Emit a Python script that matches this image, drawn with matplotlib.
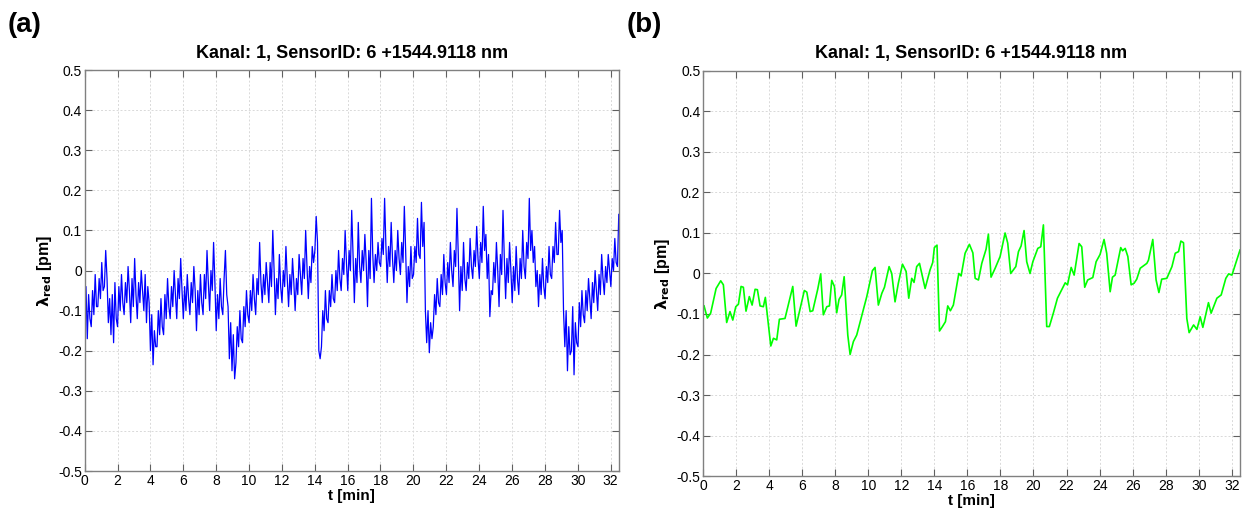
import matplotlib
matplotlib.use("Agg")
import matplotlib.pyplot as plt
import numpy as np

plt.rcParams["font.family"] = ["Liberation Sans", "DejaVu Sans"]
plt.rcParams["axes.unicode_minus"] = False

TITLE = "Kanal: 1, SensorID: 6 +1544.9118 nm"

# panel (a): raw signal, 5 samples per 0.4 min [pm]
blue_vals = [
    -0.08, -0.04, -0.17, -0.06, -0.12,   -0.14, -0.05, -0.11, -0.01, -0.09,
    -0.09, -0.02, -0.07, 0.02, -0.05,    -0.04, 0.05, -0.02, -0.13, -0.07,
    -0.16, -0.06, -0.18, -0.03, -0.12,   -0.14, -0.04, -0.10, -0.01, -0.08,
    -0.11, -0.03, -0.08, 0.01, -0.05,    -0.13, -0.02, -0.09, 0.03, -0.06,
    -0.12, -0.03, -0.08, 0.00, -0.05,    -0.10, -0.01, -0.13, -0.04, -0.08,
    -0.20, -0.11, -0.235, -0.15, -0.19,  -0.19, -0.10, -0.16, -0.07, -0.14,
    -0.16, -0.06, -0.12, -0.02, -0.09,   -0.12, -0.04, -0.09, 0.00, -0.06,
    -0.12, -0.02, -0.07, 0.03, -0.05,    -0.12, -0.04, -0.10, -0.01, -0.07,
    -0.11, -0.03, -0.08, 0.01, -0.05,    -0.15, -0.05, -0.11, -0.01, -0.08,
    -0.11, -0.01, -0.07, 0.05, -0.03,    -0.10, 0.00, -0.05, 0.07, -0.03,
    -0.15, -0.06, -0.12, -0.02, -0.09,   -0.11, -0.02, 0.05, -0.06, -0.09,
    -0.22, -0.13, -0.25, -0.16, -0.27,   -0.23, -0.14, -0.19, -0.10, -0.17,
    -0.18, -0.09, -0.14, -0.05, -0.11,   -0.13, -0.05, -0.10, -0.01, -0.07,
    -0.11, -0.02, -0.06, 0.07, -0.03,    -0.08, -0.01, -0.06, 0.02, -0.03,
    -0.08, 0.02, -0.04, 0.10, 0.00,      -0.11, -0.02, -0.07, 0.04, -0.04,
    -0.08, 0.00, -0.04, 0.06, -0.02,     -0.09, -0.01, -0.06, 0.03, -0.03,
    -0.10, -0.02, -0.06, 0.04, -0.01,    -0.06, 0.03, -0.02, 0.10, 0.01,
    -0.07, 0.01, -0.03, 0.06, 0.02,      0.05, 0.135, 0.07, -0.20, -0.22,
    -0.19, -0.10, -0.15, -0.05, -0.12,   -0.13, -0.05, -0.09, -0.01, -0.07,
    -0.08, 0.00, -0.05, 0.05, -0.02,     -0.05, 0.03, -0.01, 0.10, 0.02,
    -0.05, 0.05, 0.00, 0.15, 0.04,       -0.08, 0.03, -0.03, 0.12, 0.01,
    -0.03, 0.05, 0.00, 0.09, 0.02,       -0.09, 0.05, -0.02, 0.18, 0.04,
    -0.03, 0.04, 0.00, 0.07, 0.02,       0.01, 0.08, 0.04, 0.18, 0.06,
    -0.03, 0.06, 0.01, 0.12, 0.03,       -0.03, 0.05, 0.00, 0.10, 0.03,
    -0.01, 0.07, 0.02, 0.16, 0.05,       -0.08, 0.01, -0.04, 0.06, -0.02,
    -0.01, 0.06, 0.02, 0.13, 0.04,       0.03, 0.17, 0.06, 0.12, -0.10,
    -0.18, -0.10, -0.205, -0.13, -0.17,  -0.14, -0.06, -0.11, -0.02, -0.08,
    -0.09, -0.01, -0.06, 0.04, -0.03,    -0.06, 0.02, -0.03, 0.07, 0.00,
    -0.04, 0.05, 0.01, 0.155, 0.04,      -0.10, 0.01, -0.05, 0.07, -0.02,
    -0.05, 0.02, -0.02, 0.08, 0.01,      -0.02, 0.05, 0.01, 0.11, 0.03,
    -0.02, 0.07, 0.02, 0.16, 0.05,       0.09, -0.02, 0.04, -0.115, -0.05,
    -0.06, 0.02, -0.03, 0.07, 0.00,      -0.09, 0.04, -0.01, 0.15, 0.03,
    -0.07, 0.03, -0.03, 0.07, 0.00,      -0.08, 0.01, -0.05, 0.06, -0.02,
    -0.06, 0.03, -0.02, 0.10, 0.01,      -0.02, 0.07, 0.03, 0.18, 0.05,
    0.10, 0.02, 0.06, -0.04, 0.00,       -0.09, -0.01, -0.06, 0.03, -0.04,
    -0.07, 0.01, -0.03, 0.06, -0.01,     -0.02, 0.06, 0.02, 0.12, 0.04,
    0.04, 0.15, 0.07, 0.10, -0.10,       -0.19, -0.10, -0.25, -0.14, -0.21,
    -0.20, -0.09, -0.26, -0.13, -0.18,   -0.19, -0.08, -0.14, -0.05, -0.11,
    -0.13, -0.05, -0.10, -0.02, -0.07,   -0.12, -0.03, -0.08, 0.00, -0.05,
    -0.10, -0.01, -0.06, 0.04, -0.02,    -0.06, 0.01, -0.03, 0.04, 0.00,
    -0.04, 0.03, 0.00, 0.08, 0.02,       0.01, 0.14,
]
blue_t = np.linspace(0, 32.5, len(blue_vals))

# panel (b): smoothed signal, (t [min], value [pm])
green_t = [
    0.06, 0.26, 0.46, 0.79, 1.07, 1.23, 1.43, 1.63, 1.80, 1.98, 2.14, 2.30,
    2.44, 2.60, 2.80, 2.97, 3.15, 3.29, 3.45, 3.65, 3.77, 4.10, 4.26, 4.46,
    4.62, 4.96, 5.43, 5.63, 6.13, 6.28, 6.48, 6.64, 6.94, 7.12, 7.28, 7.49,
    7.65, 7.79, 7.95, 8.09, 8.23, 8.39, 8.54, 8.76, 8.90, 9.10, 9.30, 9.91,
    10.25, 10.41, 10.61, 10.82, 10.98, 11.26, 11.42, 11.62, 11.82, 12.07,
    12.29, 12.45, 12.63, 12.77, 12.93, 13.10, 13.44, 13.74, 13.90, 14.00,
    14.16, 14.31, 14.49, 14.67, 14.81, 14.97, 15.15, 15.48, 15.62, 15.86,
    16.12, 16.33, 16.47, 16.67, 16.87, 17.13, 17.27, 17.43, 17.68, 17.98,
    18.28, 18.44, 18.62, 18.93, 19.09, 19.25, 19.43, 19.59, 19.79, 19.96,
    20.26, 20.44, 20.60, 20.80, 20.96, 21.20, 21.45, 21.92, 22.06, 22.28,
    22.46, 22.76, 22.92, 23.10, 23.28, 23.59, 23.79, 24.03, 24.27, 24.43,
    24.64, 24.78, 24.94, 25.28, 25.39, 25.55, 25.71, 25.91, 26.09, 26.25,
    26.46, 26.86, 26.96, 27.22, 27.42, 27.59, 27.76, 28.07, 28.38, 28.58,
    28.78, 28.92, 29.08, 29.28, 29.42, 29.69, 29.89, 30.09, 30.25, 30.59,
    30.75, 31.10, 31.36, 31.64, 31.81, 32.01, 32.50,
]
green_vals = [
    -0.080, -0.110, -0.098, -0.037, -0.018, -0.028, -0.121, -0.094, -0.115,
    -0.082, -0.076, -0.032, -0.034, -0.093, -0.057, -0.078, -0.039, -0.040,
    -0.080, -0.082, -0.059, -0.179, -0.160, -0.164, -0.113, -0.111, -0.032,
    -0.130, -0.042, -0.046, -0.094, -0.092, -0.039, -0.001, -0.102, -0.082,
    -0.080, -0.017, -0.032, -0.097, -0.064, -0.053, -0.008, -0.152, -0.200,
    -0.168, -0.152, -0.057, 0.007, 0.015, -0.078, -0.049, -0.034, 0.017,
    0.000, -0.070, -0.024, 0.023, 0.005, -0.061, -0.012, -0.022, 0.017,
    0.025, -0.037, 0.009, 0.027, 0.064, 0.070, -0.142, -0.131, -0.119,
    -0.080, -0.092, -0.078, 0.000, -0.006, 0.050, 0.072, 0.051, -0.012,
    -0.016, 0.025, 0.060, 0.097, -0.009, 0.013, 0.042, 0.100, 0.075, 0.000,
    0.017, 0.054, 0.068, 0.106, 0.029, 0.000, 0.029, 0.062, 0.066, 0.120,
    -0.131, -0.131, -0.098, -0.061, -0.023, -0.028, 0.015, -0.004, 0.074,
    0.066, -0.034, -0.016, -0.010, 0.029, 0.047, 0.084, 0.050, -0.045,
    -0.009, -0.004, 0.064, 0.056, 0.062, 0.042, -0.028, -0.024, -0.014,
    0.013, 0.025, 0.033, 0.084, -0.016, -0.047, -0.014, -0.012, 0.017,
    0.050, 0.054, 0.080, 0.076, -0.111, -0.146, -0.127, -0.138, -0.107,
    -0.133, -0.072, -0.098, -0.061, -0.053, -0.012, -0.001, -0.004, 0.058,
]

y_ticks = [-0.5, -0.4, -0.3, -0.2, -0.1, 0, 0.1, 0.2, 0.3, 0.4, 0.5]
y_labels = ["-0.5", "-0.4", "-0.3", "-0.2", "-0.1", "0", "0.1", "0.2", "0.3", "0.4", "0.5"]
x_ticks = list(range(0, 33, 2))

fig = plt.figure(figsize=(12.45, 5.15), dpi=100)
ax_a = fig.add_axes([0.068, 0.0854, 0.429, 0.7786])
ax_b = fig.add_axes([0.5647, 0.0757, 0.4313, 0.7865])

ax_a.plot(blue_t, blue_vals, color="#0000ff", linewidth=0.9)
ax_b.plot(green_t, green_vals, color="#00ff00", linewidth=1.2)

for ax in (ax_a, ax_b):
    ax.set_xlim(0, 32.5)
    ax.set_ylim(-0.5, 0.5)
    ax.set_xticks(x_ticks)
    ax.set_xticklabels([str(x) for x in x_ticks])
    ax.set_yticks(y_ticks)
    ax.set_yticklabels(y_labels)
    ax.grid(True, color="#d9d9d9", linestyle=(0, (2, 2)), linewidth=0.7)
    ax.set_axisbelow(True)
    ax.tick_params(direction="in", top=True, right=True, length=5,
                   color="#606060", labelsize=10, pad=2)
    for sp in ax.spines.values():
        sp.set_color("#808080")
        sp.set_linewidth(1.0)
    ax.set_title(TITLE, fontsize=13, fontweight="bold", pad=9)
    ax.set_xlabel("t [min]", fontsize=11, fontweight="bold", labelpad=1)
    ax.set_ylabel(r"$\mathbf{\lambda_{red}}$ [pm]", fontsize=11.5,
                  fontweight="bold", labelpad=3)

fig.text(0.006, 0.951, "(a)", fontsize=20, fontweight="bold", va="center")
fig.text(0.503, 0.951, "(b)", fontsize=20, fontweight="bold", va="center")

fig.savefig("out.png", dpi=100)
